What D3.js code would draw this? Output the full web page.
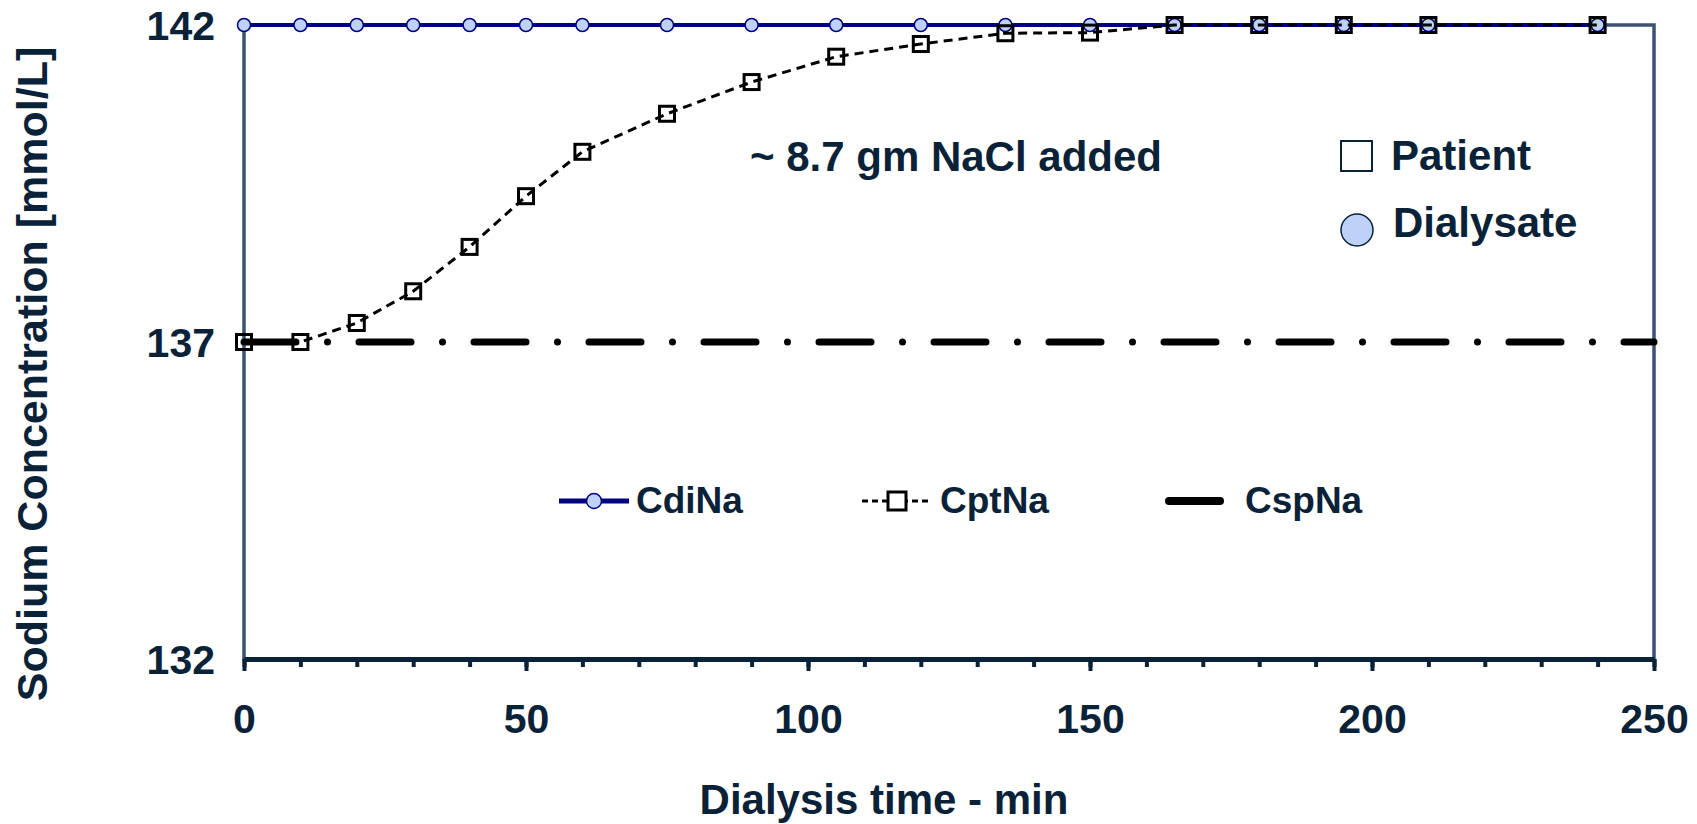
<!DOCTYPE html>
<html>
<head>
<meta charset="utf-8">
<script src="https://cdn.jsdelivr.net/npm/d3@7"></script>
<style>
  body { margin: 0; background: #fff; }
  text { font-family: "Liberation Sans", Arial, sans-serif; font-weight: bold; fill: #0a2238; }
</style>
</head>
<body>
<div id="chart"></div>
<script>
// data
var times = [0, 10, 20, 30, 40, 50, 60, 75, 90, 105, 120, 135, 150, 165, 180, 195, 210, 240];
var cdiNa = [142, 142, 142, 142, 142, 142, 142, 142, 142, 142, 142, 142, 142, 142, 142, 142, 142, 142];
var cptNa = [137, 137, 137.3, 137.8, 138.5, 139.3, 140.0, 140.6, 141.1, 141.5, 141.7, 141.87, 141.88, 142, 142, 142, 142, 142];
var spTimes = [0, 250];
var cspNa = [137, 137];
var xTicks = [0, 50, 100, 150, 200, 250];
var yTicks = [132, 137, 142];

// set the dimensions and margins of the graph
var svgWidth = 1697;
var svgHeight = 824;
var margin = {top: 25, right: 43, bottom: 165, left: 244};
var width = svgWidth - margin.left - margin.right;
var height = svgHeight - margin.top - margin.bottom;

var navy = "#000080";
var lightBlue = "#bdd2f6";
var ink = "#0a2238";
var frame = "#3d5272";

var svg = d3.select("#chart")
  .append("svg")
  .attr("width", svgWidth)
  .attr("height", svgHeight);

var chartGroup = svg.append("g")
  .attr("transform", "translate(" + margin.left + "," + margin.top + ")");

// scales
var xScale = d3.scaleLinear().domain([0, 250]).range([0, width]);
var yScale = d3.scaleLinear().domain([132, 142]).range([height, 0]);

// plot frame
chartGroup.append("rect")
  .attr("x", 0).attr("y", 0)
  .attr("width", width).attr("height", height)
  .attr("fill", "none")
  .attr("stroke", frame)
  .attr("stroke-width", 3.5);

// x axis: minor ticks every 10, major every 50
chartGroup.append("g")
  .attr("transform", "translate(0," + height + ")")
  .call(d3.axisBottom(xScale).tickValues(d3.range(0, 251, 10)).tickSize(8).tickFormat(""))
  .call(g => g.select(".domain").remove())
  .call(g => g.selectAll(".tick line").attr("stroke", ink).attr("stroke-width", 4));

var xAxis = chartGroup.append("g")
  .attr("transform", "translate(0," + height + ")")
  .call(d3.axisBottom(xScale).tickValues(xTicks).tickSize(12).tickPadding(33).tickSizeOuter(0));
xAxis.select(".domain").attr("stroke", ink).attr("stroke-width", 5);
xAxis.selectAll(".tick line").attr("stroke", ink).attr("stroke-width", 4);
xAxis.selectAll(".tick text").attr("font-size", 41).attr("fill", ink)
  .style("font-family", "'Liberation Sans', Arial, sans-serif");

// y axis, labels only
var yAxis = chartGroup.append("g")
  .call(d3.axisLeft(yScale).tickValues(yTicks).tickSize(0).tickPadding(29));
yAxis.select(".domain").remove();
yAxis.selectAll(".tick text").attr("font-size", 41).attr("dy", "0.36em").attr("fill", ink)
  .style("font-family", "'Liberation Sans', Arial, sans-serif");

var line = d3.line().x(d => xScale(d[0])).y(d => yScale(d[1]));

// CspNa set point line
chartGroup.append("path")
  .datum(spTimes.map((t, i) => [t, cspNa[i]]))
  .attr("d", line)
  .attr("fill", "none")
  .attr("stroke", "#000")
  .attr("stroke-width", 7)
  .attr("stroke-linecap", "round")
  .attr("stroke-dasharray", "52,31.5,0,31.5");

// CdiNa dialysate
var cdiPts = times.map((t, i) => [t, cdiNa[i]]);
chartGroup.append("path")
  .datum(cdiPts)
  .attr("d", line)
  .attr("fill", "none")
  .attr("stroke", navy)
  .attr("stroke-width", 4);

chartGroup.selectAll("circle.cdi")
  .data(cdiPts)
  .enter()
  .append("circle")
  .attr("class", "cdi")
  .attr("cx", d => xScale(d[0]))
  .attr("cy", d => yScale(d[1]))
  .attr("r", 6.5)
  .attr("fill", lightBlue)
  .attr("stroke", navy)
  .attr("stroke-width", 1.5);

// CptNa patient
var cptPts = times.map((t, i) => [t, cptNa[i]]);
chartGroup.append("path")
  .datum(cptPts)
  .attr("d", line)
  .attr("fill", "none")
  .attr("stroke", "#000")
  .attr("stroke-width", 3)
  .attr("stroke-dasharray", "9,6");

chartGroup.selectAll("rect.cpt")
  .data(cptPts)
  .enter()
  .append("rect")
  .attr("class", "cpt")
  .attr("x", d => xScale(d[0]) - 7.5)
  .attr("y", d => yScale(d[1]) - 7.5)
  .attr("width", 15)
  .attr("height", 15)
  .attr("fill", "none")
  .attr("stroke", "#000")
  .attr("stroke-width", 3);

// annotation
svg.append("text")
  .attr("x", 750).attr("y", 171)
  .attr("font-size", 42)
  .text("~ 8.7 gm NaCl added");

// patient / dialysate key
svg.append("rect")
  .attr("x", 1341).attr("y", 141)
  .attr("width", 31).attr("height", 30)
  .attr("fill", "#fff")
  .attr("stroke", ink)
  .attr("stroke-width", 2);
svg.append("text").attr("x", 1391).attr("y", 170).attr("font-size", 42).text("Patient");

svg.append("circle")
  .attr("cx", 1357).attr("cy", 230).attr("r", 16)
  .attr("fill", lightBlue)
  .attr("stroke", ink)
  .attr("stroke-width", 1.5);
svg.append("text").attr("x", 1393).attr("y", 237).attr("font-size", 42).text("Dialysate");

// series legend
var legY = 501;
svg.append("line").attr("x1", 559).attr("x2", 629).attr("y1", legY).attr("y2", legY)
  .attr("stroke", navy).attr("stroke-width", 5);
svg.append("circle").attr("cx", 594).attr("cy", legY).attr("r", 7.5)
  .attr("fill", lightBlue).attr("stroke", navy).attr("stroke-width", 1.5);

svg.append("line").attr("x1", 862).attr("x2", 932).attr("y1", legY).attr("y2", legY)
  .attr("stroke", "#000").attr("stroke-width", 3).attr("stroke-dasharray", "6,4");
svg.append("rect").attr("x", 888).attr("y", legY - 9).attr("width", 18).attr("height", 18)
  .attr("fill", "#fff").attr("stroke", "#000").attr("stroke-width", 3);

svg.append("line").attr("x1", 1169).attr("x2", 1220).attr("y1", legY).attr("y2", legY)
  .attr("stroke", "#000").attr("stroke-width", 8).attr("stroke-linecap", "round");

var legendItems = [["CdiNa", 636], ["CptNa", 940], ["CspNa", 1245]];
legendItems.forEach(function(d) {
  svg.append("text")
    .attr("x", d[1]).attr("y", 513)
    .attr("font-size", 37)
    .text(d[0]);
});

// axis labels
svg.append("text")
  .attr("x", 884).attr("y", 814)
  .attr("text-anchor", "middle")
  .attr("font-size", 42)
  .text("Dialysis time - min");

svg.append("text")
  .attr("transform", "translate(47,374) rotate(-90)")
  .attr("text-anchor", "middle")
  .attr("font-size", 43)
  .text("Sodium Concentration [mmol/L]");
</script>
</body>
</html>
